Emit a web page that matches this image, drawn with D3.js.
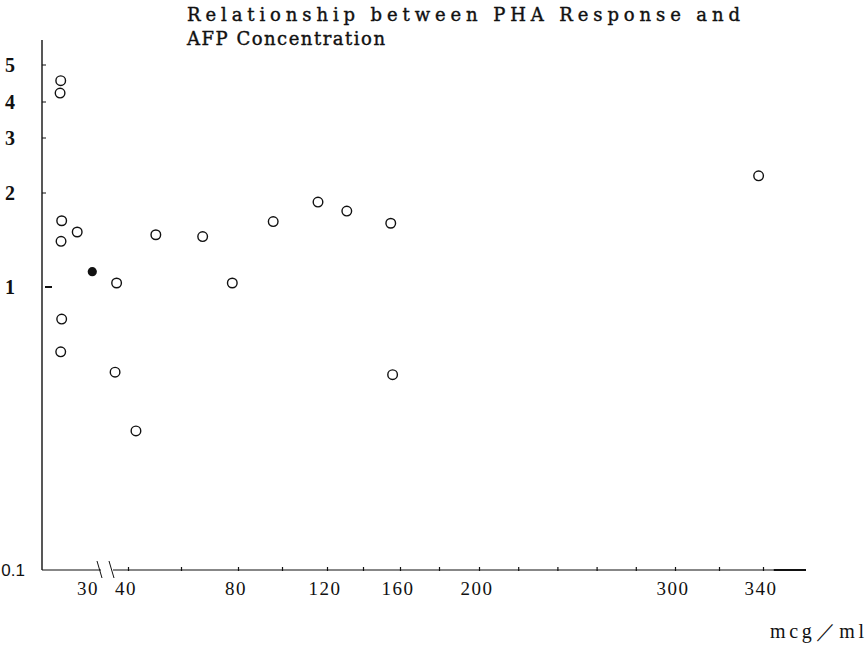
<!DOCTYPE html>
<html>
<head>
<meta charset="utf-8">
<script src="https://cdn.jsdelivr.net/npm/d3@7"></script>
<style>
  body { margin: 0; background: #fff; }
  svg { display: block; }
  text { font-family: "Liberation Serif", "DejaVu Serif", serif; fill: #111; }
</style>
</head>
<body>
<svg id="chart" width="868" height="648"></svg>
<script>
// AFP concentration (mcg/ml) and PHA response
var afpOpen = [11.7, 11.3, 12.3, 22, 11.9, 37, 50.5, 67.6, 78, 12.3, 11.7, 36.6, 43, 96, 116, 131, 155, 156, 338];
var phaOpen = [4.55, 4.22, 1.63, 1.50, 1.40, 1.03, 1.47, 1.45, 1.03, 0.77, 0.59, 0.50, 0.31, 1.62, 1.87, 1.75, 1.60, 0.49, 2.27];
var afpFilled = [30.6];
var phaFilled = [1.12];

var xTickValues = [40, 60, 80, 100, 120, 140, 160, 180, 200, 220, 240, 260, 280, 300, 320, 340];
var xTickLabels = [30, 40, 80, 120, 160, 200, 300, 340];
var yTickValues = [5, 4, 3, 2, 1];
var yBottomLabel = 0.1;

var titleLines = ["Relationship between PHA Response and", "AFP Concentration"];
var unitLabel = "mcg\uFF0Fml";

var svg = d3.select('#chart');

// the hand-drawn axis is not even, so both scales are piecewise
var x = d3.scaleLinear()
    .domain([0, 30, 40, 60, 80, 100, 120, 140, 160, 180, 200, 300, 340, 360])
    .range([42, 90, 128, 181, 238, 282, 327, 363, 400, 439, 479, 675, 763, 806]);

var y = d3.scaleLog()
    .domain([0.1, 1, 2, 3, 4, 5])
    .range([570, 287, 193, 138, 102, 65]);

var axisY = 570;
var breakX = [101, 113];

// title
svg.selectAll('.title')
    .data(titleLines)
    .enter().append('text')
    .attr('class', 'title')
    .attr('x', 187)
    .attr('y', function(d, i) { return 21 + i * 24; })
    .attr('textLength', function(d, i) { return i == 0 ? 553 : 198; })
    .attr('lengthAdjust', 'spacing')
    .style('font-family', '"DejaVu Serif", serif')
    .style('font-size', '18px')
    .style('stroke', '#111')
    .style('stroke-width', 0.4)
    .text(function(d) { return d; });

// y axis
svg.append('line')
    .attr('x1', 42).attr('x2', 42)
    .attr('y1', 40).attr('y2', axisY)
    .attr('stroke', '#111').attr('stroke-width', 1.4);

svg.selectAll('.ytick')
    .data(yTickValues)
    .enter().append('line')
    .attr('class', 'ytick')
    .attr('x1', function(d) { return d == 1 ? 45 : 42; })
    .attr('x2', function(d) { return d == 1 ? 52 : 46; })
    .attr('y1', function(d) { return y(d); })
    .attr('y2', function(d) { return y(d); })
    .attr('stroke', '#111')
    .attr('stroke-width', function(d) { return d == 1 ? 2 : 1; });

svg.selectAll('.ylabel')
    .data(yTickValues)
    .enter().append('text')
    .attr('class', 'ylabel')
    .attr('x', 15)
    .attr('y', function(d) { return y(d); })
    .attr('dy', '0.35em')
    .attr('text-anchor', 'end')
    .style('font-size', '20px')
    .style('font-weight', 'bold')
    .text(function(d) { return d; });

svg.append('text')
    .attr('x', 25)
    .attr('y', y(yBottomLabel))
    .attr('dy', '0.35em')
    .attr('text-anchor', 'end')
    .style('font-family', '"Liberation Sans", sans-serif')
    .style('font-size', '17px')
    .text(yBottomLabel);

// x axis, broken between 30 and 40
svg.append('line')
    .attr('x1', 42).attr('x2', breakX[0])
    .attr('y1', axisY).attr('y2', axisY)
    .attr('stroke', '#111').attr('stroke-width', 1.2);
svg.append('line')
    .attr('x1', breakX[1]).attr('x2', x(360))
    .attr('y1', axisY).attr('y2', axisY)
    .attr('stroke', '#111').attr('stroke-width', 1.2);
svg.append('line')
    .attr('x1', x(345)).attr('x2', x(360))
    .attr('y1', axisY).attr('y2', axisY)
    .attr('stroke', '#111').attr('stroke-width', 2);

svg.selectAll('.brk')
    .data(breakX)
    .enter().append('line')
    .attr('class', 'brk')
    .attr('x1', function(d) { return d - 4; })
    .attr('x2', function(d) { return d + 1; })
    .attr('y1', axisY - 9)
    .attr('y2', axisY + 8)
    .attr('stroke', '#111').attr('stroke-width', 1);

var xAxis = d3.axisBottom(x)
    .tickValues(xTickValues)
    .tickSize(-4)
    .tickFormat('');

var gx = svg.append('g')
    .attr('transform', 'translate(0,' + (axisY + 1) + ')')
    .call(xAxis);
gx.select('.domain').remove();
gx.selectAll('.tick line').attr('stroke', '#111').attr('stroke-width', 1.2);

svg.selectAll('.xlabel')
    .data(xTickLabels)
    .enter().append('text')
    .attr('class', 'xlabel')
    .attr('x', function(d) { return x(d) - 2; })
    .attr('y', 595)
    .attr('text-anchor', 'middle')
    .attr('letter-spacing', '1.5px')
    .style('font-size', '19px')
    .text(function(d) { return d; });

svg.append('text')
    .attr('x', 770)
    .attr('y', 638)
    .attr('textLength', 94)
    .attr('lengthAdjust', 'spacing')
    .style('font-size', '20px')
    .text(unitLabel);

// points
svg.selectAll('.open')
    .data(afpOpen)
    .enter().append('circle')
    .attr('class', 'open')
    .attr('cx', function(d) { return x(d); })
    .attr('cy', function(d, i) { return y(phaOpen[i]); })
    .attr('r', 4.8)
    .attr('fill', 'none')
    .attr('stroke', '#111')
    .attr('stroke-width', 1.4);

svg.selectAll('.filled')
    .data(afpFilled)
    .enter().append('circle')
    .attr('class', 'filled')
    .attr('cx', function(d) { return x(d); })
    .attr('cy', function(d, i) { return y(phaFilled[i]); })
    .attr('r', 4.6)
    .attr('fill', '#111');
</script>
</body>
</html>
